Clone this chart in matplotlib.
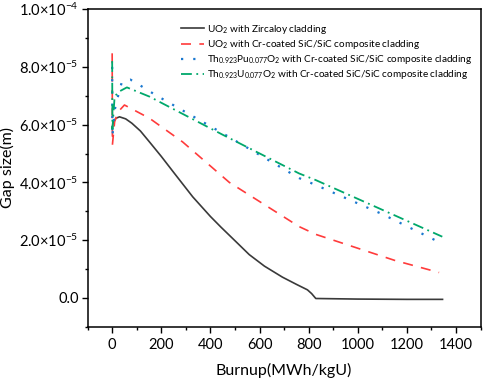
import matplotlib
matplotlib.use('Agg')
import matplotlib.pyplot as plt
from matplotlib.ticker import MultipleLocator, FixedLocator

plt.rcParams['font.family'] = ['Lato', 'DejaVu Sans']
plt.rcParams['mathtext.fontset'] = 'custom'
plt.rcParams['mathtext.rm'] = 'Lato'
plt.rcParams['mathtext.it'] = 'Lato:italic'

# data (gap size in units of 1e-5 m)
burnup_zr = [0, 5, 15, 30, 55, 80, 115, 152, 200, 250, 328, 400, 443, 500, 558, 620, 693, 750,
             795, 812, 829, 1000, 1200, 1345]
gap_zr = [5.9, 6.1, 6.22, 6.27, 6.2, 6.05, 5.78, 5.4, 4.9, 4.35, 3.5, 2.82, 2.45, 1.98, 1.5, 1.1,
          0.72, 0.47, 0.28, 0.15, -0.02, -0.04, -0.05, -0.05]

burnup_uo2 = [0, 1, 10, 25, 50, 152, 287, 477, 761, 829, 1000, 1150, 1331]
gap_uo2 = [8.47, 5.3, 6.1, 6.45, 6.68, 6.22, 5.4, 4.0, 2.47, 2.2, 1.72, 1.3, 0.88]

burnup_pu = [0, 1, 10, 30, 40, 74, 108, 172, 450, 761, 829, 1100, 1322]
gap_pu = [8.0, 5.58, 6.5, 7.2, 7.49, 7.56, 7.39, 7.05, 5.7, 4.15, 3.91, 2.9, 1.97]

burnup_u = [0, 1, 10, 27, 60, 152, 450, 761, 829, 1100, 1344]
gap_u = [8.2, 5.85, 6.97, 7.14, 7.29, 6.97, 5.65, 4.31, 4.08, 3.05, 2.12]

labels = ['UO$_2$ with Zircaloy cladding',
          'UO$_2$ with Cr-coated SiC/SiC composite cladding',
          'Th$_{0.923}$Pu$_{0.077}$O$_2$ with Cr-coated SiC/SiC composite cladding',
          'Th$_{0.923}$U$_{0.077}$O$_2$ with Cr-coated SiC/SiC composite cladding']

ytick_labels = ['0.0', '2.0×10$^{-5}$', '4.0×10$^{-5}$', '6.0×10$^{-5}$', '8.0×10$^{-5}$', '1.0×10$^{-4}$']

fig = plt.figure(figsize=(4.84, 3.8), dpi=100)
ax = fig.add_axes([0.181, 0.140, 0.812, 0.836])

s = 1e-5
ax.plot(burnup_zr, [g * s for g in gap_zr], color='#3a3a3a', lw=1.2, label=labels[0])
ax.plot(burnup_uo2, [g * s for g in gap_uo2], color='#ff3b3b', lw=1.2, dashes=(6, 5), label=labels[1])
ax.plot(burnup_pu, [g * s for g in gap_pu], color='#1a78d0', lw=1.6, dashes=(1, 4.5), label=labels[2])
ax.plot(burnup_u, [g * s for g in gap_u], color='#00a86b', lw=1.3, dashes=(6, 2.5, 1, 2.5), label=labels[3])

ax.set_xlim(-100, 1500)
ax.set_ylim(-1e-5, 1e-4)
ax.xaxis.set_major_locator(MultipleLocator(200))
ax.xaxis.set_minor_locator(MultipleLocator(100))
ax.yaxis.set_major_locator(FixedLocator([0, 2e-5, 4e-5, 6e-5, 8e-5, 1e-4]))
ax.yaxis.set_minor_locator(MultipleLocator(1e-5))
ax.set_yticklabels(ytick_labels)
ax.tick_params(which='major', direction='out', length=4, width=1, labelsize=10.5, pad=2.5)
ax.tick_params(axis='x', which='major', pad=4)
ax.tick_params(which='minor', direction='out', length=2.5, width=1)
for sp in ax.spines.values():
    sp.set_linewidth(1.1)

ax.set_xlabel('Burnup(MWh/kgU)', fontsize=11.5, labelpad=8)
ax.set_ylabel('Gap size(m)', fontsize=11.5)
ax.yaxis.set_label_coords(-0.185, 0.5)

ax.legend(loc='upper left', bbox_to_anchor=(0.215, 0.985), frameon=False, fontsize=7.2,
          handlelength=2.3, handletextpad=0.3, labelspacing=0.22)

fig.savefig('out.png', dpi=100)
